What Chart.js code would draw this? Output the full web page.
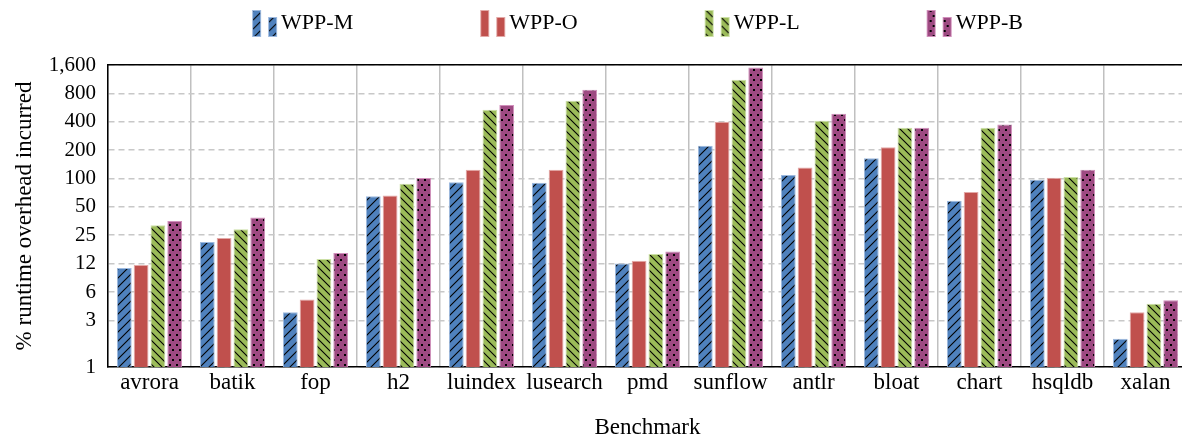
<!DOCTYPE html>
<html>
<head>
<meta charset="utf-8">
<script src="https://cdn.jsdelivr.net/npm/chart.js@4/dist/chart.umd.min.js"></script>
<style>
    html, body { margin: 0; padding: 0; overflow: hidden; background: #fff; }
    #wrap { position: absolute; left: 0; top: -27px; width: 1190px; height: 466px; }
</style>
</head>
<body>
<div id="wrap"><canvas id="overheadChart" width="1190" height="466"></canvas></div>
<script>
const benchmarks = ["avrora", "batik", "fop", "h2", "luindex", "lusearch", "pmd", "sunflow", "antlr", "bloat", "chart", "hsqldb", "xalan"];

const wppM = [11.2, 21.2, 3.8, 65, 91, 90, 12.5, 222, 109, 164, 58, 97, 2.0];
const wppO = [12.1, 23.4, 5.2, 66, 124, 124, 13.4, 399, 131, 215, 72, 102, 3.8];
const wppL = [32, 29, 14, 88, 536, 667, 15.8, 1115, 410, 345, 345, 104, 4.7];
const wppB = [35.5, 38.5, 16.2, 101, 601, 873, 16.8, 1508, 486, 345, 374, 124, 5.1];

const yTickValues = [1, 3.125, 6.25, 12.5, 25, 50, 100, 200, 400, 800, 1600];
const yTickLabels = ["1", "3", "6", "12", "25", "50", "100", "200", "400", "800", "1,600"];

Chart.defaults.font.family = "'Liberation Serif', 'Times New Roman', serif";
Chart.defaults.color = "#000";

// small tiles used as fill patterns
function hatchTile(color, dir, size) {
    const c = document.createElement("canvas");
    c.width = size;
    c.height = size;
    const g = c.getContext("2d");
    g.fillStyle = color;
    g.fillRect(0, 0, size, size);
    g.strokeStyle = "#000";
    g.lineWidth = 1.1;
    g.beginPath();
    if (dir === "/") {
        g.moveTo(-1, size + 1); g.lineTo(size + 1, -1);
        g.moveTo(-1, 1); g.lineTo(1, -1);
        g.moveTo(size - 1, size + 1); g.lineTo(size + 1, size - 1);
    } else {
        g.moveTo(-1, -1); g.lineTo(size + 1, size + 1);
        g.moveTo(size - 1, -1); g.lineTo(size + 1, 1);
        g.moveTo(-1, size - 1); g.lineTo(1, size + 1);
    }
    g.stroke();
    return c;
}

function solidTile(color) {
    const c = document.createElement("canvas");
    c.width = 4;
    c.height = 4;
    const g = c.getContext("2d");
    g.fillStyle = color;
    g.fillRect(0, 0, 4, 4);
    return c;
}

function dotTile(color) {
    const c = document.createElement("canvas");
    c.width = 7;
    c.height = 10;
    const g = c.getContext("2d");
    g.fillStyle = color;
    g.fillRect(0, 0, 7, 10);
    g.fillStyle = "#000";
    g.fillRect(1, 1, 2, 2);
    g.fillRect(4, 6, 2, 2);
    return c;
}

const series = [
    { label: "WPP-M", data: wppM, tile: hatchTile("#4F81BD", "/", 9), border: "#9DB9DE" },
    { label: "WPP-O", data: wppO, tile: solidTile("#C0504D"), border: "#E3A9A7" },
    { label: "WPP-L", data: wppL, tile: hatchTile("#9BBB59", "\\", 8), border: "#CCE0A6" },
    { label: "WPP-B", data: wppB, tile: dotTile("#9E4A82"), border: "#D08FBB" }
];

const legendBoxWidth = 106;

// legend icon: two little bars at the right end of the box
function legendIcon(s) {
    const c = document.createElement("canvas");
    c.width = legendBoxWidth + 16;
    c.height = 28;
    const g = c.getContext("2d");
    g.fillStyle = g.createPattern(s.tile, "repeat");
    g.strokeStyle = s.border;
    g.lineWidth = 1;
    const x1 = c.width - 26;
    const x2 = c.width - 10;
    g.fillRect(x1, 1, 9, 27);
    g.strokeRect(x1 + 0.5, 1.5, 8, 26);
    g.fillRect(x2, 8, 9, 20);
    g.strokeRect(x2 + 0.5, 8.5, 8, 19);
    return c;
}

const ctx = document.getElementById("overheadChart").getContext("2d");

new Chart(ctx, {
    type: "bar",
    data: {
        labels: benchmarks,
        datasets: series.map(s => ({
            label: s.label,
            data: s.data,
            backgroundColor: ctx.createPattern(s.tile, "repeat"),
            borderColor: s.border,
            borderWidth: 1,
            barPercentage: 0.88,
            categoryPercentage: 0.81
        }))
    },
    options: {
        responsive: false,
        animation: false,
        devicePixelRatio: 1,
        layout: { padding: { left: 0, right: 3, top: 0, bottom: 0 } },
        plugins: {
            tooltip: { enabled: false },
            legend: {
                position: "top",
                labels: {
                    usePointStyle: true,
                    pointStyleWidth: legendBoxWidth,
                    padding: 39,
                    font: { size: 22 },
                    generateLabels: chart => chart.data.datasets.map((ds, i) => ({
                        text: ds.label,
                        pointStyle: legendIcon(series[i]),
                        fillStyle: "transparent",
                        strokeStyle: "transparent",
                        lineWidth: 0,
                        fontColor: "#000",
                        hidden: !chart.isDatasetVisible(i),
                        datasetIndex: i
                    }))
                }
            }
        },
        scales: {
            x: {
                position: "bottom",
                grid: { color: "#C0C0C0", lineWidth: 1.5, offset: true, drawTicks: false },
                border: { color: "#000", width: 1.5 },
                ticks: { font: { size: 23 }, padding: 2, autoSkip: false, maxRotation: 0 },
                title: {
                    display: true,
                    text: "Benchmark",
                    font: { size: 23, lineHeight: 1 },
                    padding: { top: 0, bottom: 0 }
                },
                afterFit: scale => { scale.height = 72; }
            },
            xTop: {
                position: "top",
                grid: { display: false },
                border: { color: "#000", width: 1.5 },
                ticks: { display: false },
                afterFit: scale => { scale.height = 21; }
            },
            y: {
                type: "logarithmic",
                min: 1,
                max: 1600,
                grid: { color: "#C8C8C8", lineWidth: 1.5, drawTicks: false },
                border: { color: "#000", width: 1.5, dash: [6, 4] },
                afterBuildTicks: scale => {
                    scale.ticks = yTickValues.map(v => ({ value: v }));
                },
                ticks: {
                    font: { size: 21 },
                    padding: 12,
                    callback: value => yTickLabels[yTickValues.indexOf(value)]
                },
                title: {
                    display: true,
                    text: "% runtime overhead incurred",
                    font: { size: 23 },
                    padding: { top: 11, bottom: 0 }
                },
                afterFit: scale => { scale.width = 108; }
            }
        }
    }
});
</script>
</body>
</html>
